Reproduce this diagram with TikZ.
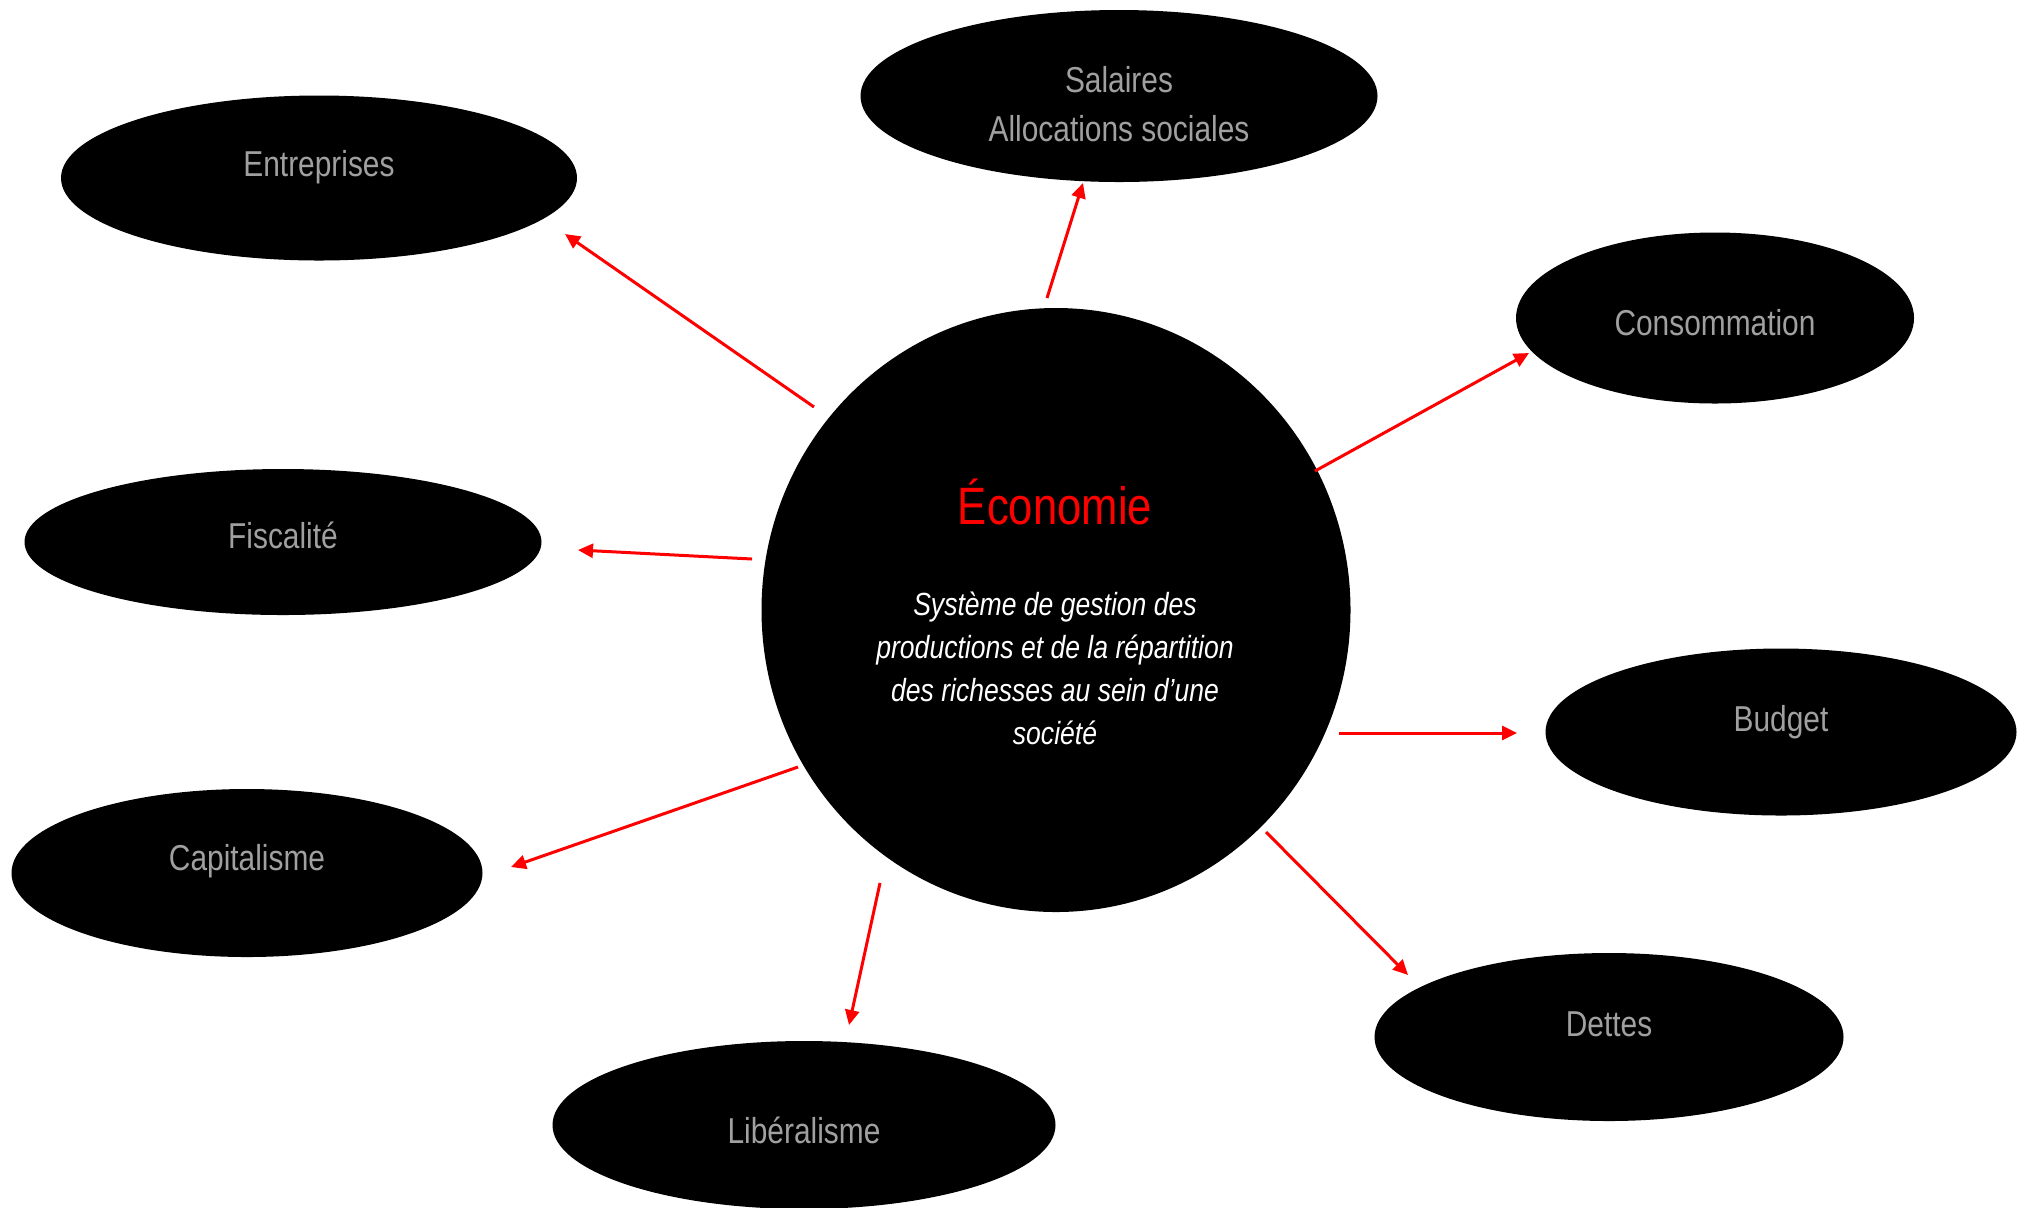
\documentclass[tikz,border=0pt]{standalone}
\usepackage{fontspec}
\setmainfont{Liberation Sans}[FakeStretch=0.83]
\usetikzlibrary{shapes.geometric,arrows.meta}
\definecolor{labgray}{RGB}{160,160,160}
\begin{document}
\begin{tikzpicture}[x=0.5pt,y=-0.5pt,
  bub/.style={ellipse, fill=black, draw=none, inner sep=0pt},
  lab/.style={text=labgray, font=\fontsize{18}{24.5}\selectfont, align=center, inner sep=0pt},
  arr/.style={red, line width=1.5pt, -{Triangle[length=7.5pt,width=7pt]}}
]
\useasboundingbox (0,0) rectangle (2027,1207);
% central circle
\node[ellipse, fill=black, inner sep=0pt, minimum width=294.5pt, minimum height=302pt] (eco) at (1056,610) {};
\node[text=red, font=\fontsize{26.3}{30}\selectfont, inner sep=0pt] (ecot) at (1055,502) {Économie};
\node[text=white, font=\fontsize{16}{21.5}\selectfont\itshape, align=center, inner sep=0pt] (ecod) at (1055,668)
  {Système de gestion des\\productions et de la répartition\\des richesses au sein d’une\\société};
% satellites
\node[bub, minimum width=258pt, minimum height=82.5pt] (ent) at (319,178) {};
\node[lab] (entt) at (319,167) {Entreprises};
\node[bub, minimum width=258.5pt, minimum height=86pt] (sal) at (1119,96) {};
\node[lab] (salt) at (1119,104) {Salaires\\Allocations sociales};
\node[bub, minimum width=199pt, minimum height=85.5pt] (con) at (1715,318) {};
\node[lab] (cont) at (1715,323) {Consommation};
\node[bub, minimum width=258.5pt, minimum height=73pt] (fis) at (283,542) {};
\node[lab] (fist) at (283,535) {Fiscalité};
\node[bub, minimum width=235.5pt, minimum height=83.5pt] (bud) at (1781,732) {};
\node[lab] (budt) at (1781,722) {Budget};
\node[bub, minimum width=235.5pt, minimum height=84pt] (cap) at (247,873) {};
\node[lab] (capt) at (247,861) {Capitalisme};
\node[bub, minimum width=234.5pt, minimum height=84pt] (det) at (1609,1037) {};
\node[lab] (dett) at (1609,1024) {Dettes};
\node[bub, minimum width=251.5pt, minimum height=84pt] (lib) at (804,1125) {};
\node[lab] (libt) at (804,1130) {Libéralisme};
% arrow end points
\coordinate (a1s) at (814,407);  \coordinate (a1e) at (565,234);
\coordinate (a2s) at (1047,298); \coordinate (a2e) at (1083,183);
\coordinate (a3s) at (1315,471); \coordinate (a3e) at (1529,353);
\coordinate (a4s) at (752,559);  \coordinate (a4e) at (578,550);
\coordinate (a5s) at (1339,733); \coordinate (a5e) at (1517,733);
\coordinate (a6s) at (798,767);  \coordinate (a6e) at (511,867);
\coordinate (a7s) at (1266,832); \coordinate (a7e) at (1408,975);
\coordinate (a8s) at (880,883);  \coordinate (a8e) at (849,1025);
\draw[arr] (a1s) -- (a1e);
\draw[arr] (a2s) -- (a2e);
\draw[arr] (a3s) -- (a3e);
\draw[arr] (a4s) -- (a4e);
\draw[arr] (a5s) -- (a5e);
\draw[arr] (a6s) -- (a6e);
\draw[arr] (a7s) -- (a7e);
\draw[arr] (a8s) -- (a8e);
\end{tikzpicture}
\end{document}
